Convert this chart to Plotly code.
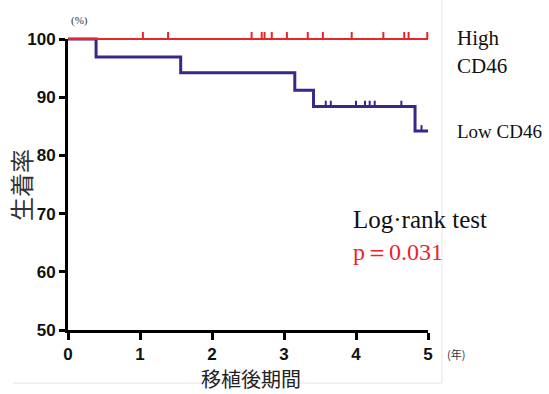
import plotly.graph_objects as go

# ---------------- data ----------------
high_times = [0.0, 5.0]
high_surv = [100.0, 100.0]
high_censor = [1.04, 1.39, 2.55, 2.69, 2.73, 2.83, 3.04, 3.33, 3.54, 3.94, 4.38, 4.67, 4.73, 4.99]

low_times = [0.0, 0.39, 1.565, 3.15, 3.41, 4.82, 5.0]
low_surv = [100.0, 96.9, 94.2, 91.2, 88.4, 84.2, 84.2]
low_censor = [3.58, 3.65, 4.0, 4.125, 4.19, 4.26, 4.63, 4.91]

x_ticks = [0, 1, 2, 3, 4, 5]
y_ticks = [50, 60, 70, 80, 90, 100]

RED = "#e8252b"
BLUE = "#36298c"

# ---------------- geometry (pixels) ----------------
FW, FH = 549, 394
L, R, T, B = 30, 80, 10, 40
PW, PH = FW - L - R, FH - T - B
X0, X5, Y100, Y50 = 68, 428, 39, 330
ppx = (X5 - X0) / 5.0
ppy = (Y50 - Y100) / 50.0


def px(x):
    return (x - L) / PW


def py(y):
    return (FH - B - y) / PH


def step_xy(times, surv):
    xs, ys = [times[0]], [surv[0]]
    for i in range(1, len(times)):
        xs += [times[i], times[i]]
        ys += [surv[i - 1], surv[i]]
    return xs, ys


def surv_at(t, times, surv):
    v = surv[0]
    for i in range(len(times)):
        if times[i] <= t:
            v = surv[i]
    return v


def censor_xy(ct, times, surv, h):
    xs, ys = [], []
    for t in ct:
        s = surv_at(t, times, surv)
        xs += [t, t, None]
        ys += [s, s + h, None]
    return xs, ys


fig = go.Figure()

hx, hy = step_xy(high_times, high_surv)
lx, ly = step_xy(low_times, low_surv)
hcx, hcy = censor_xy(high_censor, high_times, high_surv, 1.2)
lcx, lcy = censor_xy(low_censor, low_times, low_surv, 1.0)

# visible axes live on x2/y2 (empty trace so the subplot is drawn)
fig.add_trace(go.Scatter(x=[], y=[], xaxis="x2", yaxis="y2", showlegend=False, hoverinfo="skip"))

fig.add_trace(go.Scatter(x=lx, y=ly, mode="lines", line=dict(color=BLUE, width=3),
                         showlegend=False, hoverinfo="skip"))
fig.add_trace(go.Scatter(x=lcx, y=lcy, mode="lines", line=dict(color=BLUE, width=2),
                         showlegend=False, hoverinfo="skip"))
fig.add_trace(go.Scatter(x=hx, y=hy, mode="lines", line=dict(color=RED, width=2),
                         showlegend=False, hoverinfo="skip"))
fig.add_trace(go.Scatter(x=hcx, y=hcy, mode="lines", line=dict(color=RED, width=2),
                         showlegend=False, hoverinfo="skip"))

tickfont = dict(family="Liberation Sans, Arial, sans-serif", size=17, color="#111", weight="bold")

fig.update_layout(
    width=FW, height=FH,
    margin=dict(l=L, r=R, t=T, b=B, autoexpand=False),
    paper_bgcolor="white", plot_bgcolor="rgba(0,0,0,0)",
    xaxis2=dict(domain=[px(X0), px(X5)], range=[0, 5], tickvals=x_ticks,
                showline=True, linecolor="black", linewidth=3, ticks="outside",
                ticklen=7, tickwidth=2.5, tickcolor="black", showgrid=False, zeroline=False,
                tickfont=tickfont, anchor="y2", fixedrange=True, automargin=False),
    yaxis2=dict(domain=[py(Y50), py(Y100)], range=[50, 100], tickvals=y_ticks,
                showline=True, linecolor="black", linewidth=3, ticks="outside",
                ticklen=6, tickwidth=2.5, tickcolor="black", showgrid=False, zeroline=False,
                tickfont=tickfont, anchor="x2", fixedrange=True, automargin=False),
    xaxis=dict(domain=[0, 1], range=[-(X0 - L) / ppx, 5 + (L + PW - X5) / ppx],
               visible=False, anchor="y", fixedrange=True),
    yaxis=dict(domain=[0, 1], range=[50 - (FH - B - Y50) / ppy, 100 + (Y100 - T) / ppy],
               visible=False, anchor="x", fixedrange=True),
)

serif = "Liberation Serif, Times New Roman, serif"
cjk = "Noto Sans CJK JP"

annos = [
    dict(text="High", x=455, y=38, font=dict(family=serif, size=21, color="#111"), xanchor="left"),
    dict(text="CD46", x=455, y=66, font=dict(family=serif, size=21, color="#111"), xanchor="left"),
    dict(text="Low CD46", x=455, y=131, font=dict(family=serif, size=19, color="#111"), xanchor="left"),
    dict(text="Log·rank test", x=351, y=219, font=dict(family=serif, size=25, color="#111"), xanchor="left"),
    dict(text="p＝0.031", x=351, y=252, font=dict(family=serif, size=24, color=RED), xanchor="left"),
    dict(text="(%)", x=79, y=21, font=dict(family=serif, size=11, color="#333"), xanchor="center"),
    dict(text="(年)", x=456, y=354, font=dict(family=cjk, size=11, color="#333"), xanchor="center"),
    dict(text="移植後期間", x=251, y=379, font=dict(family=cjk, size=20, color="#222"), xanchor="center"),
    dict(text="生着率", x=20, y=185, font=dict(family=cjk, size=24, color="#333"), xanchor="center",
         textangle=-90),
]
for a in annos:
    fig.add_annotation(text=a["text"], x=px(a["x"]), y=py(a["y"]), xref="paper", yref="paper",
                       xanchor=a["xanchor"], yanchor="middle", showarrow=False, font=a["font"],
                       textangle=a.get("textangle", 0))

# faint frame of the original picture
fig.add_shape(type="line", xref="paper", yref="paper", x0=px(442), x1=px(442), y0=py(0), y1=py(383),
              line=dict(color="#e6e6e6", width=1))
fig.add_shape(type="line", xref="paper", yref="paper", x0=px(13), x1=px(442), y0=py(383), y1=py(383),
              line=dict(color="#e6e6e6", width=1))

fig.write_html("out.html")
